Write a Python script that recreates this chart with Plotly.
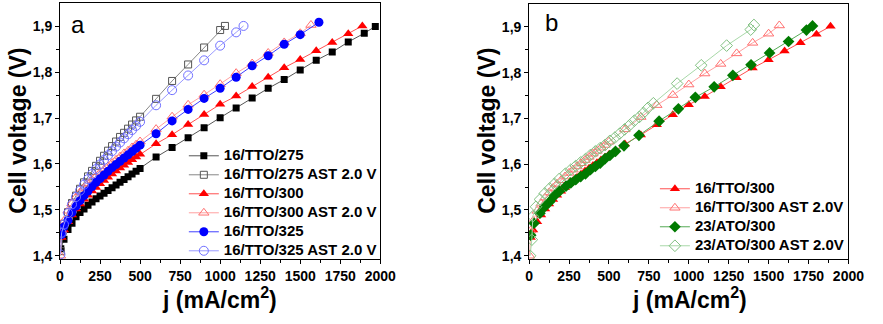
import plotly.graph_objects as go

# ---- data: current density j (mA/cm2) vs cell voltage (V) ----
j_275 = [5, 25, 50, 75, 100, 125, 150, 175, 200, 225, 250, 275, 300, 325, 350, 375, 400, 425, 450, 475, 500,
         600, 700, 800, 900, 1000, 1100, 1200, 1300, 1400, 1500, 1600, 1700, 1800, 1900, 1969]
v_275 = [1.415, 1.436, 1.457, 1.471, 1.485, 1.494, 1.502, 1.510, 1.517, 1.524, 1.530, 1.536, 1.542, 1.548, 1.554,
         1.560, 1.566, 1.572, 1.578, 1.584, 1.590,
         1.615, 1.636, 1.657, 1.679, 1.701, 1.722, 1.744, 1.765, 1.784, 1.805, 1.826, 1.844, 1.866, 1.885, 1.900]

j_275_ast = [5, 25, 50, 75, 100, 125, 150, 175, 200, 225, 250, 275, 300, 325, 350, 375, 400, 425, 450, 475, 500,
             600, 700, 800, 900, 1000, 1030]
v_275_ast = [1.410, 1.470, 1.495, 1.515, 1.531, 1.546, 1.560, 1.573, 1.585, 1.596, 1.607, 1.618, 1.629, 1.639,
             1.649, 1.659, 1.668, 1.677, 1.686, 1.695, 1.703,
             1.742, 1.781, 1.817, 1.854, 1.892, 1.901]

j_300 = [10, 25, 50, 75, 100, 125, 150, 175, 200, 225, 250, 275, 300, 325, 350, 375, 400, 425, 450, 475, 500,
         600, 700, 800, 900, 1000, 1100, 1200, 1300, 1400, 1500, 1600, 1700, 1800, 1888]
v_300 = [1.440, 1.456, 1.474, 1.489, 1.502, 1.513, 1.523, 1.532, 1.541, 1.549, 1.557, 1.564, 1.571, 1.578, 1.585,
         1.591, 1.597, 1.603, 1.609, 1.615, 1.621,
         1.644, 1.664, 1.686, 1.708, 1.730, 1.748, 1.769, 1.789, 1.810, 1.828, 1.847, 1.865, 1.884, 1.901]

j_300_ast = [3, 10, 25, 50, 75, 100, 125, 150, 175, 200, 225, 250, 275, 300, 325, 350, 375, 400, 425, 450, 475, 500,
             600, 700, 800, 900, 1000, 1100, 1200, 1300, 1400, 1500, 1567]
v_300_ast = [1.400, 1.455, 1.476, 1.498, 1.514, 1.527, 1.538, 1.548, 1.557, 1.565, 1.573, 1.581, 1.588, 1.595,
             1.602, 1.609, 1.616, 1.623, 1.629, 1.636, 1.642, 1.649,
             1.676, 1.703, 1.729, 1.751, 1.774, 1.798, 1.819, 1.842, 1.865, 1.885, 1.903]

j_325 = [10, 25, 50, 75, 100, 125, 150, 175, 200, 225, 250, 275, 300, 325, 350, 375, 400, 425, 450, 475, 500,
         600, 700, 800, 900, 1000, 1100, 1200, 1300, 1400, 1500, 1617]
v_325 = [1.446, 1.463, 1.477, 1.494, 1.508, 1.520, 1.531, 1.541, 1.551, 1.560, 1.568, 1.576, 1.584, 1.592, 1.599,
         1.606, 1.613, 1.620, 1.627, 1.634, 1.641,
         1.666, 1.694, 1.719, 1.743, 1.765, 1.789, 1.814, 1.836, 1.861, 1.882, 1.909]

j_325_ast = [3, 10, 25, 50, 75, 100, 125, 150, 175, 200, 225, 250, 275, 300, 325, 350, 375, 400, 425, 450, 475, 500,
             600, 700, 800, 900, 1000, 1100, 1146]
v_325_ast = [1.403, 1.450, 1.468, 1.493, 1.512, 1.528, 1.542, 1.555, 1.567, 1.578, 1.589, 1.599, 1.609, 1.619,
             1.628, 1.638, 1.647, 1.656, 1.665, 1.674, 1.683, 1.692,
             1.728, 1.761, 1.793, 1.826, 1.858, 1.887, 1.901]

j_ato = [10, 31, 68, 98, 129, 159, 190, 231, 261, 292, 323, 353, 384, 415, 445, 476, 506, 541, 594, 688,
         814, 935, 1041, 1159, 1276, 1390, 1506, 1625, 1737, 1775]
v_ato = [1.445, 1.471, 1.493, 1.507, 1.518, 1.531, 1.541, 1.552, 1.559, 1.566, 1.573, 1.579, 1.588, 1.595, 1.602,
         1.612, 1.619, 1.628, 1.640, 1.663,
         1.694, 1.721, 1.746, 1.769, 1.794, 1.817, 1.843, 1.868, 1.893, 1.902]

j_ato_ast = [6, 17, 23, 43, 68, 98, 129, 159, 190, 227, 261, 292, 323, 353, 384, 415, 445, 476, 506, 537, 568,
             598, 629, 659, 690, 716, 745, 778, 927, 1078, 1237, 1388, 1408]
v_ato_ast = [1.400, 1.435, 1.486, 1.507, 1.523, 1.536, 1.547, 1.557, 1.568, 1.579, 1.588, 1.596, 1.604, 1.611,
             1.620, 1.628, 1.635, 1.642, 1.651, 1.658, 1.667, 1.676, 1.685, 1.695, 1.703, 1.712, 1.723, 1.733,
             1.776, 1.816, 1.859, 1.894, 1.904]

x_ticks = [0, 250, 500, 750, 1000, 1250, 1500, 1750, 2000]
x_tick_labels = ["0", "250", "500", "750", "1000", "1250", "1500", "1750", "2000"]
y_ticks = [1.4, 1.5, 1.6, 1.7, 1.8, 1.9]
y_tick_labels = ["1,4", "1,5", "1,6", "1,7", "1,8", "1,9"]

FONT = "Liberation Sans, Arial, sans-serif"
W, H = 883, 324


def label(text):
    # legend rows are laid out on a 12px grid, text itself drawn at 15px
    return '<span style="font-size:15px">' + text + "</span>"


def trace(x, y, name, symbol, size, mcolor, lcolor, xa, ya, leg, open_=False):
    marker = dict(symbol=symbol, size=size, color=mcolor)
    if open_:
        marker.update(line=dict(color=mcolor, width=1))
    else:
        marker.update(line=dict(width=0))
    return go.Scatter(x=x, y=y, name=label(name), mode="lines+markers", marker=marker,
                      line=dict(color=lcolor, width=1), xaxis=xa, yaxis=ya, legend=leg)


fig = go.Figure()

# panel a
fig.add_trace(trace(j_275, v_275, "16/TTO/275", "square", 7, "#000000", "#555555", "x", "y", "legend"))
fig.add_trace(trace(j_275_ast, v_275_ast, "16/TTO/275 AST 2.0 V", "square-open", 7, "#555555", "#888888",
                    "x", "y", "legend", True))
fig.add_trace(trace(j_300, v_300, "16/TTO/300", "triangle-up", 9, "#ff0000", "#ff5050", "x", "y", "legend"))
fig.add_trace(trace(j_300_ast, v_300_ast, "16/TTO/300 AST 2.0 V", "triangle-up-open", 9, "#ff7070", "#ffa0a0",
                    "x", "y", "legend", True))
fig.add_trace(trace(j_325, v_325, "16/TTO/325", "circle", 9, "#0000ff", "#4040ff", "x", "y", "legend"))
fig.add_trace(trace(j_325_ast, v_325_ast, "16/TTO/325 AST 2.0 V", "circle-open", 9, "#7070ff", "#9a9aff",
                    "x", "y", "legend", True))

# panel b
fig.add_trace(trace(j_300, v_300, "16/TTO/300", "triangle-up", 9, "#ff0000", "#ff5050", "x2", "y2", "legend2"))
fig.add_trace(trace(j_300_ast, v_300_ast, "16/TTO/300 AST 2.0V", "triangle-up-open", 9, "#ff7070", "#ffa0a0",
                    "x2", "y2", "legend2", True))
fig.add_trace(trace(j_ato, v_ato, "23/ATO/300", "diamond", 9, "#007a00", "#55aa55", "x2", "y2", "legend2"))
fig.add_trace(trace(j_ato_ast, v_ato_ast, "23/ATO/300 AST 2.0V", "diamond-open", 9, "#80c080", "#a8d8a8",
                    "x2", "y2", "legend2", True))

tick_font = dict(family=FONT, size=14, color="black", weight="bold")


def xaxis(domain):
    return dict(domain=domain, range=[0, 2000], tickvals=x_ticks, ticktext=x_tick_labels,
                showline=True, mirror=True, linecolor="black", linewidth=1, ticks="outside",
                ticklen=4, tickwidth=1, tickcolor="black", tickfont=tick_font, showgrid=False,
                zeroline=False, minor=dict(tickvals=[125, 375, 625, 875, 1125, 1375, 1625, 1875],
                                           ticks="outside", ticklen=3, tickcolor="black"))


def yaxis(domain, anchor):
    return dict(domain=domain, anchor=anchor, range=[1.393, 1.95], tickvals=y_ticks, ticktext=y_tick_labels,
                showline=True, mirror=True, linecolor="black", linewidth=1, ticks="outside",
                ticklen=4, tickwidth=1, tickcolor="black", tickfont=tick_font, showgrid=False,
                zeroline=False, minor=dict(tickvals=[1.45, 1.55, 1.65, 1.75, 1.85],
                                           ticks="outside", ticklen=3, tickcolor="black"))


leg_font = dict(family=FONT, size=12, color="black", weight="bold")
title_font = dict(family=FONT, size=23, color="black", weight="bold")

fig.update_layout(
    width=W, height=H, margin=dict(l=0, r=0, t=0, b=0),
    paper_bgcolor="white", plot_bgcolor="white",
    xaxis=dict(xaxis([57.3 / W, 385 / W]), anchor="y"),
    yaxis=yaxis([1 - 263 / H, 1 - 3.5 / H], "x"),
    xaxis2=dict(xaxis([537.3 / W, 864 / W]), anchor="y2"),
    yaxis2=yaxis([1 - 263 / H, 1 - 4 / H], "x2"),
    legend=dict(x=184 / W, y=1 - 143.5 / H, xanchor="left", yanchor="top", bgcolor="rgba(0,0,0,0)",
                font=leg_font, tracegroupgap=0, itemwidth=30),
    legend2=dict(x=666 / W, y=1 - 177 / H, xanchor="left", yanchor="top", bgcolor="rgba(0,0,0,0)",
                 font=leg_font, tracegroupgap=0, itemwidth=30),
    annotations=[
        dict(text="Cell voltage (V)", x=14 / W, y=1 - 133 / H, xref="paper", yref="paper",
             textangle=-90, showarrow=False, font=title_font, xanchor="center", yanchor="middle"),
        dict(text="j (mA/cm<sup>2</sup>)", x=221 / W, y=1 - 303 / H, xref="paper", yref="paper",
             showarrow=False, font=title_font, xanchor="center", yanchor="middle"),
        dict(text="Cell voltage (V)", x=494 / W, y=1 - 133 / H, xref="paper", yref="paper",
             textangle=-90, showarrow=False, font=title_font, xanchor="center", yanchor="middle"),
        dict(text="j (mA/cm<sup>2</sup>)", x=701 / W, y=1 - 303 / H, xref="paper", yref="paper",
             showarrow=False, font=title_font, xanchor="center", yanchor="middle"),
        dict(text="a", x=76 / W, y=1 - 25 / H, xref="paper", yref="paper", showarrow=False,
             font=dict(family=FONT, size=24, color="black"), xanchor="center", yanchor="middle"),
        dict(text="b", x=560 / W, y=1 - 23 / H, xref="paper", yref="paper", showarrow=False,
             font=dict(family=FONT, size=24, color="black"), xanchor="center", yanchor="middle"),
    ],
)

fig.write_html("out.html")
